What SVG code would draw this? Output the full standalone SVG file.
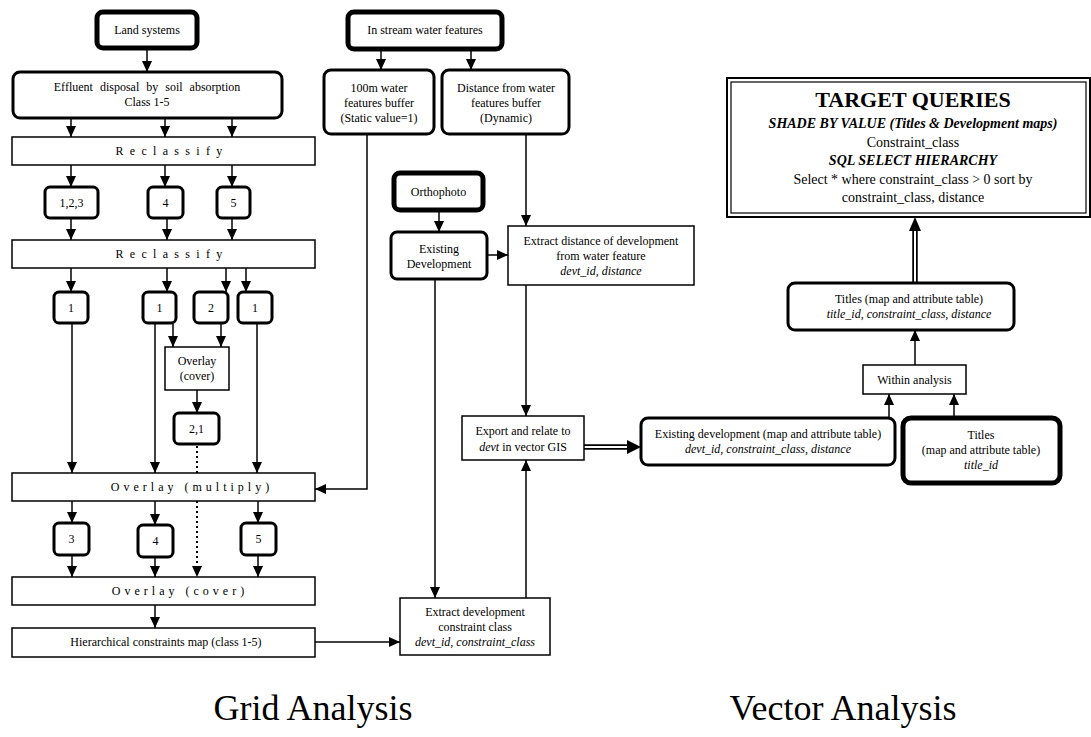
<svg xmlns="http://www.w3.org/2000/svg" width="1091" height="737" viewBox="0 0 1091 737">
<style>
text{font-family:"Liberation Serif","Times New Roman",serif;font-size:12px;text-anchor:middle;fill:#000}
.i{font-style:italic}
.box{fill:#fff;stroke:#000;stroke-width:1.5}
.rb{fill:#fff;stroke:#000;stroke-width:3}
.tb{fill:#fff;stroke:#000;stroke-width:5}
.c{fill:none;stroke:#000;stroke-width:1.5}
.d{fill:none;stroke:#000;stroke-width:2;stroke-dasharray:2 3}
.sp6{letter-spacing:6.3px}
.sp4{letter-spacing:4px}
.big{font-size:36px}
</style>
<defs>
<marker id="a" markerUnits="userSpaceOnUse" markerWidth="12" markerHeight="10" refX="11" refY="5" orient="auto">
<path d="M0,0 L11,5 L0,10 Z" fill="#000"/>
</marker>
</defs>
<g id="connectors">
<path class="c" marker-end="url(#a)" d="M147,49 V72"/>
<path class="c" marker-end="url(#a)" d="M71,119 V137"/>
<path class="c" marker-end="url(#a)" d="M165,119 V137"/>
<path class="c" marker-end="url(#a)" d="M232,119 V137"/>
<path class="c" marker-end="url(#a)" d="M71,165 V187"/>
<path class="c" marker-end="url(#a)" d="M165,165 V187"/>
<path class="c" marker-end="url(#a)" d="M232,165 V187"/>
<path class="c" marker-end="url(#a)" d="M71,219 V240"/>
<path class="c" marker-end="url(#a)" d="M167,219 V240"/>
<path class="c" marker-end="url(#a)" d="M232,219 V240"/>
<path class="c" marker-end="url(#a)" d="M71,268 V292"/>
<path class="c" marker-end="url(#a)" d="M167,268 V292"/>
<path class="c" marker-end="url(#a)" d="M226,268 V292"/>
<path class="c" marker-end="url(#a)" d="M246,268 V292"/>
<path class="c" marker-end="url(#a)" d="M72,324 V473"/>
<path class="c" marker-end="url(#a)" d="M155,324 V473"/>
<path class="c" marker-end="url(#a)" d="M173,324 V347"/>
<path class="c" marker-end="url(#a)" d="M221,324 V347"/>
<path class="c" marker-end="url(#a)" d="M257,324 V473"/>
<path class="c" marker-end="url(#a)" d="M197,390 V413"/>
<path class="d" d="M197,446 V567"/>
<path d="M192,566 L197,577 L202,566 Z" fill="#000"/>
<path class="c" marker-end="url(#a)" d="M367,134 V489 H315"/>
<path class="c" marker-end="url(#a)" d="M72,501 V523"/>
<path class="c" marker-end="url(#a)" d="M155,501 V525"/>
<path class="c" marker-end="url(#a)" d="M258,501 V523"/>
<path class="c" marker-end="url(#a)" d="M72,556 V577"/>
<path class="c" marker-end="url(#a)" d="M155,558 V577"/>
<path class="c" marker-end="url(#a)" d="M258,556 V577"/>
<path class="c" marker-end="url(#a)" d="M155,605 V628"/>
<path class="c" marker-end="url(#a)" d="M315,642 H400"/>
<path class="c" marker-end="url(#a)" d="M381,49 V70"/>
<path class="c" marker-end="url(#a)" d="M471,49 V70"/>
<path class="c" marker-end="url(#a)" d="M439,210 V232"/>
<path class="c" marker-end="url(#a)" d="M487,255 H508"/>
<path class="c" marker-end="url(#a)" d="M526,134 V226"/>
<path class="c" marker-end="url(#a)" d="M435,279 V598"/>
<path class="c" marker-end="url(#a)" d="M526,285 V416"/>
<path class="c" marker-end="url(#a)" d="M526,598 V460"/>
<path d="M584,447 H630" fill="none" stroke="#000" stroke-width="5.5"/>
<path d="M584,447 H632" fill="none" stroke="#fff" stroke-width="2"/>
<path d="M627,440 L641,447 L627,454 Z" fill="#000"/>
<path class="c" marker-end="url(#a)" d="M889,418 V394"/>
<path class="c" marker-end="url(#a)" d="M954,418 V394"/>
<path class="c" marker-end="url(#a)" d="M915,365 V330"/>
<path d="M915,283 V229" fill="none" stroke="#000" stroke-width="5.5"/>
<path d="M915,284 V227" fill="none" stroke="#fff" stroke-width="2"/>
<path d="M909,231 L915,217 L921,231 Z" fill="#000"/>
</g>
<g id="land"><rect class="tb" x="97" y="12" width="100" height="36" rx="6"/><text x="147" y="34">Land systems</text></g>
<g id="effluent"><rect class="rb" x="13" y="72" width="269" height="46" rx="7"/><text x="147" y="91" style="word-spacing:4px">Effluent disposal by soil absorption</text><text x="147" y="106">Class 1-5</text></g>
<g id="reclassify1"><rect class="box" x="12" y="137" width="303" height="28"/><text class="sp6" x="172" y="155">Reclassify</text></g>
<g id="n123"><rect class="rb" x="45" y="187" width="53" height="31" rx="5"/><text x="71.5" y="207">1,2,3</text></g>
<g id="n4a"><rect class="rb" x="148" y="187" width="35" height="31" rx="5"/><text x="165.5" y="207">4</text></g>
<g id="n5a"><rect class="rb" x="217" y="187" width="33" height="31" rx="5"/><text x="233.5" y="207">5</text></g>
<g id="reclassify2"><rect class="box" x="12" y="240" width="303" height="28"/><text class="sp6" x="172" y="258">Reclassify</text></g>
<g id="b1a"><rect class="rb" x="54" y="292" width="34" height="31" rx="5"/><text x="71" y="312">1</text></g>
<g id="b1b"><rect class="rb" x="143" y="292" width="33" height="31" rx="5"/><text x="159.5" y="312">1</text></g>
<g id="b2"><rect class="rb" x="194" y="292" width="34" height="31" rx="5"/><text x="211" y="312">2</text></g>
<g id="b1c"><rect class="rb" x="238" y="292" width="34" height="31" rx="5"/><text x="255" y="312">1</text></g>
<g id="overlaycoversmall"><rect class="box" x="165" y="347" width="64" height="43"/><text x="197" y="365">Overlay</text><text x="197" y="380">(cover)</text></g>
<g id="b21"><rect class="rb" x="174" y="413" width="45" height="31" rx="5"/><text x="196.5" y="433">2,1</text></g>
<g id="overlaymultiply"><rect class="box" x="12" y="473" width="303" height="28"/><text class="sp4" x="192" y="491">Overlay (multiply)</text></g>
<g id="b3"><rect class="rb" x="54" y="523" width="35" height="32" rx="5"/><text x="71.5" y="543">3</text></g>
<g id="b4"><rect class="rb" x="138" y="525" width="35" height="32" rx="5"/><text x="155.5" y="545">4</text></g>
<g id="b5"><rect class="rb" x="241" y="523" width="35" height="32" rx="5"/><text x="258.5" y="543">5</text></g>
<g id="overlaycover"><rect class="box" x="12" y="577" width="303" height="28"/><text class="sp4" x="180" y="595">Overlay (cover)</text></g>
<g id="hierarchical"><rect class="box" x="12" y="628" width="303" height="29"/><text x="166" y="646">Hierarchical constraints map (class 1-5)</text></g>
<g id="instream"><rect class="tb" x="348" y="12" width="154" height="37" rx="6"/><text x="425" y="34">In stream water features</text></g>
<g id="buffer100"><rect class="rb" x="324" y="70" width="110" height="64" rx="7"/><text x="379" y="92">100m water</text><text x="379" y="107">features buffer</text><text x="379" y="122">(Static value=1)</text></g>
<g id="distbuffer"><rect class="rb" x="442" y="70" width="127" height="64" rx="7"/><text x="506" y="92">Distance from water</text><text x="506" y="107">features buffer</text><text x="506" y="122">(Dynamic)</text></g>
<g id="orthophoto"><rect class="tb" x="394" y="173" width="89" height="37" rx="6"/><text x="438.5" y="196">Orthophoto</text></g>
<g id="existingdev"><rect class="rb" x="391" y="232" width="96" height="47" rx="6"/><text x="439" y="253">Existing</text><text x="439" y="268">Development</text></g>
<g id="extractdistance"><rect class="box" x="508" y="226" width="186" height="59"/><text x="601" y="245">Extract distance of development</text><text x="601" y="260">from water feature</text><text class="i" x="601" y="275">devt_id, distance</text></g>
<g id="export"><rect class="box" x="462" y="416" width="122" height="44"/><text x="523" y="435">Export and relate to</text><text x="523" y="451"><tspan class="i">devt</tspan> in vector GIS</text></g>
<g id="extractdev"><rect class="box" x="400" y="598" width="150" height="57"/><text x="475" y="616">Extract development</text><text x="475" y="631">constraint class</text><text class="i" x="475" y="646">devt_id, constraint_class</text></g>
<g id="existingdevmap"><rect class="rb" x="641" y="418" width="254" height="47" rx="7"/><text x="768" y="438">Existing development (map and attribute table)</text><text class="i" x="768" y="453">devt_id, constraint_class, distance</text></g>
<g id="titles"><rect class="tb" x="903" y="418" width="157" height="65" rx="8"/><text x="981" y="439">Titles</text><text x="981" y="454">(map and attribute table)</text><text class="i" x="981" y="469">title_id</text></g>
<g id="within"><rect class="box" x="863" y="365" width="103" height="29"/><text x="914.5" y="384">Within analysis</text></g>
<g id="titlesmap"><rect class="rb" x="788" y="283" width="226" height="47" rx="7"/><text x="909" y="303">Titles (map and attribute table)</text><text class="i" x="909" y="318">title_id, constraint_class, distance</text></g>
<g id="target"><rect x="727" y="78" width="363" height="139" fill="#fff" stroke="#000" stroke-width="2"/><rect x="731" y="82" width="355" height="131" fill="none" stroke="#000" stroke-width="1.2"/>
<text x="913" y="107" style="font-size:22px;font-weight:bold">TARGET QUERIES</text>
<text x="913" y="128" style="font-size:14px;font-weight:bold;font-style:italic">SHADE BY VALUE (Titles &amp; Development maps)</text>
<text x="913" y="147" style="font-size:14px">Constraint_class</text>
<text x="913" y="165" style="font-size:14px;font-weight:bold;font-style:italic">SQL SELECT HIERARCHY</text>
<text x="913" y="184" style="font-size:14px">Select * where constraint_class &gt; 0 sort by</text>
<text x="913" y="202" style="font-size:14px">constraint_class, distance</text></g>
<g id="labels"><text class="big" x="313" y="720">Grid Analysis</text><text class="big" x="843" y="720">Vector Analysis</text></g>
</svg>
